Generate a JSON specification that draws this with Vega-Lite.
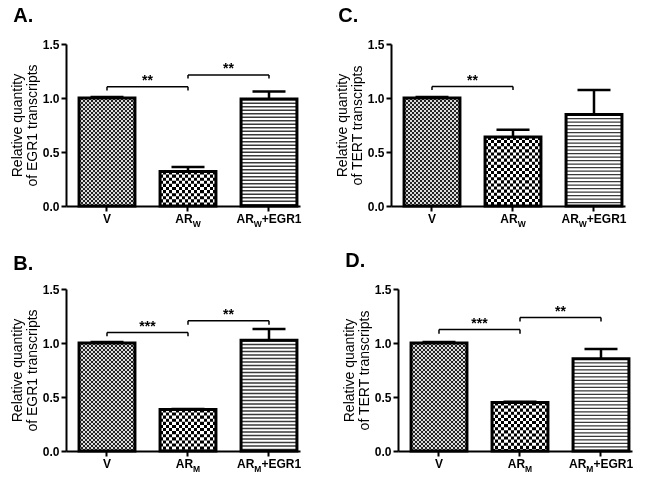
{
"$schema": "https://vega.github.io/schema/vega-lite/v6.json",
"padding": {"left": 10, "top": 6, "right": 2, "bottom": 2},
"background": "white",
"datasets": {
"bars": [
{"p":"A","cat":"V","value":1.0,"hi":1.01},
{"p":"A","cat":"AR","value":0.32,"hi":0.36},
{"p":"A","cat":"AR+EGR1","value":0.99,"hi":1.06},
{"p":"B","cat":"V","value":1.0,"hi":1.01},
{"p":"B","cat":"AR","value":0.385,"hi":0.39},
{"p":"B","cat":"AR+EGR1","value":1.025,"hi":1.13},
{"p":"C","cat":"V","value":1.0,"hi":1.01},
{"p":"C","cat":"AR","value":0.64,"hi":0.705},
{"p":"C","cat":"AR+EGR1","value":0.848,"hi":1.075},
{"p":"D","cat":"V","value":1.0,"hi":1.01},
{"p":"D","cat":"AR","value":0.45,"hi":0.455},
{"p":"D","cat":"AR+EGR1","value":0.855,"hi":0.945}
],
"brackets": [
{"p":"A","c1":"V","c2":"AR","level":1.105,"leg":1.07,"stars":"**"},
{"p":"A","c1":"AR","c2":"AR+EGR1","level":1.213,"leg":1.18,"stars":"**"},
{"p":"B","c1":"V","c2":"AR","level":1.097,"leg":1.062,"stars":"***"},
{"p":"B","c1":"AR","c2":"AR+EGR1","level":1.205,"leg":1.17,"stars":"**"},
{"p":"C","c1":"V","c2":"AR","level":1.106,"leg":1.074,"stars":"**"},
{"p":"D","c1":"V","c2":"AR","level":1.124,"leg":1.086,"stars":"***"},
{"p":"D","c1":"AR","c2":"AR+EGR1","level":1.237,"leg":1.2,"stars":"**"}
],
"labels": [
{"p":"A","cat":"V","main":"V","sub":"","tail":""},
{"p":"A","cat":"AR","main":"AR","sub":"W","tail":""},
{"p":"A","cat":"AR+EGR1","main":"AR","sub":"W","tail":"+EGR1"},
{"p":"C","cat":"V","main":"V","sub":"","tail":""},
{"p":"C","cat":"AR","main":"AR","sub":"W","tail":""},
{"p":"C","cat":"AR+EGR1","main":"AR","sub":"W","tail":"+EGR1"},
{"p":"B","cat":"V","main":"V","sub":"","tail":""},
{"p":"B","cat":"AR","main":"AR","sub":"M","tail":""},
{"p":"B","cat":"AR+EGR1","main":"AR","sub":"M","tail":"+EGR1"},
{"p":"D","cat":"V","main":"V","sub":"","tail":""},
{"p":"D","cat":"AR","main":"AR","sub":"M","tail":""},
{"p":"D","cat":"AR+EGR1","main":"AR","sub":"M","tail":"+EGR1"}
]
},
"spacing": 17,
"vconcat": [
{"spacing": 33, "hconcat": [
{
"width":234,"height":162,
"title":{"text":"A.","offset":12,"dx":3},
"data":{"name":"bars"},
"transform":[{"filter":"datum.p=='A'"}],
"encoding":{"x":{"field":"cat","type":"nominal","title":null,"scale":{"type":"band","domain":["V","AR","AR+EGR1"],"paddingInner":0.31,"paddingOuter":0.0995,"align":0.81},"axis":{"labels":false,"tickSize":5,"tickWidth":2,"domainWidth":2,"domainColor":"#000","tickColor":"#000"}}},
"layer":[
{"transform":[{"filter":"datum.cat=='V'"}],"mark":{"type":"bar","fill":{"gradient":"linear","x1":0,"y1":0,"x2":1,"y2":0,"stops":[
{"offset":0,"color":"#202020"},{"offset":0.0357,"color":"#202020"},{"offset":0.0357,"color":"#d8d8d8"},{"offset":0.0714,"color":"#d8d8d8"},
{"offset":0.0714,"color":"#202020"},{"offset":0.1071,"color":"#202020"},{"offset":0.1071,"color":"#d8d8d8"},{"offset":0.1429,"color":"#d8d8d8"},
{"offset":0.1429,"color":"#202020"},{"offset":0.1786,"color":"#202020"},{"offset":0.1786,"color":"#d8d8d8"},{"offset":0.2143,"color":"#d8d8d8"},
{"offset":0.2143,"color":"#202020"},{"offset":0.25,"color":"#202020"},{"offset":0.25,"color":"#d8d8d8"},{"offset":0.2857,"color":"#d8d8d8"},
{"offset":0.2857,"color":"#202020"},{"offset":0.3214,"color":"#202020"},{"offset":0.3214,"color":"#d8d8d8"},{"offset":0.3571,"color":"#d8d8d8"},
{"offset":0.3571,"color":"#202020"},{"offset":0.3929,"color":"#202020"},{"offset":0.3929,"color":"#d8d8d8"},{"offset":0.4286,"color":"#d8d8d8"},
{"offset":0.4286,"color":"#202020"},{"offset":0.4643,"color":"#202020"},{"offset":0.4643,"color":"#d8d8d8"},{"offset":0.5,"color":"#d8d8d8"},
{"offset":0.5,"color":"#202020"},{"offset":0.5357,"color":"#202020"},{"offset":0.5357,"color":"#d8d8d8"},{"offset":0.5714,"color":"#d8d8d8"},
{"offset":0.5714,"color":"#202020"},{"offset":0.6071,"color":"#202020"},{"offset":0.6071,"color":"#d8d8d8"},{"offset":0.6429,"color":"#d8d8d8"},
{"offset":0.6429,"color":"#202020"},{"offset":0.6786,"color":"#202020"},{"offset":0.6786,"color":"#d8d8d8"},{"offset":0.7143,"color":"#d8d8d8"},
{"offset":0.7143,"color":"#202020"},{"offset":0.75,"color":"#202020"},{"offset":0.75,"color":"#d8d8d8"},{"offset":0.7857,"color":"#d8d8d8"},
{"offset":0.7857,"color":"#202020"},{"offset":0.8214,"color":"#202020"},{"offset":0.8214,"color":"#d8d8d8"},{"offset":0.8571,"color":"#d8d8d8"},
{"offset":0.8571,"color":"#202020"},{"offset":0.8929,"color":"#202020"},{"offset":0.8929,"color":"#d8d8d8"},{"offset":0.9286,"color":"#d8d8d8"},
{"offset":0.9286,"color":"#202020"},{"offset":0.9643,"color":"#202020"},{"offset":0.9643,"color":"#d8d8d8"},{"offset":1,"color":"#d8d8d8"}
]}},"encoding":{"y":{"field":"value","type":"quantitative","scale":{"domain":[0,1.5],"nice":false},"axis":{"values":[0,0.5,1,1.5],"format":".1f","title":["Relative quantity","of EGR1 transcripts"],"labelFontSize":12,"labelFontWeight":"bold","labelColor":"#000","labelPadding":2,"titleFontSize":14,"titleFontWeight":"normal","titleColor":"#000","titlePadding":3,"titleLineHeight":15,"tickSize":5,"tickWidth":2,"domainWidth":2,"domainColor":"#000","tickColor":"#000"}}}},
{"transform":[{"filter":"datum.cat=='AR'"}],"mark":{"type":"bar","fill":{"gradient":"linear","x1":0,"y1":0,"x2":1,"y2":0,"stops":[
{"offset":0,"color":"#000"},{"offset":0.0556,"color":"#000"},{"offset":0.0556,"color":"#fff"},{"offset":0.1111,"color":"#fff"},
{"offset":0.1111,"color":"#000"},{"offset":0.1667,"color":"#000"},{"offset":0.1667,"color":"#fff"},{"offset":0.2222,"color":"#fff"},
{"offset":0.2222,"color":"#000"},{"offset":0.2778,"color":"#000"},{"offset":0.2778,"color":"#fff"},{"offset":0.3333,"color":"#fff"},
{"offset":0.3333,"color":"#000"},{"offset":0.3889,"color":"#000"},{"offset":0.3889,"color":"#fff"},{"offset":0.4444,"color":"#fff"},
{"offset":0.4444,"color":"#000"},{"offset":0.5,"color":"#000"},{"offset":0.5,"color":"#fff"},{"offset":0.5556,"color":"#fff"},
{"offset":0.5556,"color":"#000"},{"offset":0.6111,"color":"#000"},{"offset":0.6111,"color":"#fff"},{"offset":0.6667,"color":"#fff"},
{"offset":0.6667,"color":"#000"},{"offset":0.7222,"color":"#000"},{"offset":0.7222,"color":"#fff"},{"offset":0.7778,"color":"#fff"},
{"offset":0.7778,"color":"#000"},{"offset":0.8333,"color":"#000"},{"offset":0.8333,"color":"#fff"},{"offset":0.8889,"color":"#fff"},
{"offset":0.8889,"color":"#000"},{"offset":0.9444,"color":"#000"},{"offset":0.9444,"color":"#fff"},{"offset":1,"color":"#fff"}
]}},"encoding":{"y":{"field":"value","type":"quantitative"}}},
{"transform":[{"filter":"datum.cat=='V'"}],"mark":{"type":"rule","color":"#fff","strokeWidth":55,"strokeDash":[2,2],"blend":"difference"},"encoding":{"y":{"field":"value","type":"quantitative"},"y2":{"datum":0}}},
{"transform":[{"filter":"datum.cat=='AR'"}],"mark":{"type":"rule","color":"#fff","strokeWidth":55,"strokeDash":[3.1,3.1],"blend":"difference"},"encoding":{"y":{"field":"value","type":"quantitative"},"y2":{"datum":0}}},
{"transform":[{"filter":"datum.cat=='AR+EGR1'"}],"mark":{"type":"rule","color":"#3a3a3a","strokeWidth":55,"strokeDash":[1.4,2.1]},"encoding":{"y":{"field":"value","type":"quantitative"},"y2":{"datum":0}}},
{"mark":{"type":"bar","filled":false,"color":"#000","strokeWidth":3},"encoding":{"y":{"field":"value","type":"quantitative"}}},
{"mark":{"type":"rule","color":"#000","strokeWidth":2.5},"encoding":{"y":{"field":"value","type":"quantitative"},"y2":{"field":"hi"}}},
{"mark":{"type":"tick","color":"#000","size":33,"thickness":2.5,"opacity":1},"encoding":{"y":{"field":"hi","type":"quantitative"}}},
{"data":{"name":"brackets"},"transform":[{"filter":"datum.p=='A'"}],"mark":{"type":"rule","color":"#000","strokeWidth":1.5},"encoding":{"x":{"field":"c1","type":"nominal"},"x2":{"field":"c2"},"y":{"field":"level","type":"quantitative"}}},
{"data":{"name":"brackets"},"transform":[{"filter":"datum.p=='A'"}],"mark":{"type":"rule","color":"#000","strokeWidth":1.5},"encoding":{"x":{"field":"c1","type":"nominal"},"y":{"field":"level","type":"quantitative"},"y2":{"field":"leg"}}},
{"data":{"name":"brackets"},"transform":[{"filter":"datum.p=='A'"}],"mark":{"type":"rule","color":"#000","strokeWidth":1.5},"encoding":{"x":{"field":"c2","type":"nominal"},"y":{"field":"level","type":"quantitative"},"y2":{"field":"leg"}}},
{"data":{"name":"brackets"},"transform":[{"filter":"datum.p=='A'"}],"mark":{"type":"text","dx":40.5,"dy":-1.5,"baseline":"alphabetic","align":"center","fontSize":14,"fontWeight":"bold"},"encoding":{"x":{"field":"c1","type":"nominal"},"y":{"field":"level","type":"quantitative"},"text":{"field":"stars"}}},
{"data":{"name":"labels"},"transform":[{"filter":"datum.p=='A' && datum.cat=='V'"}],"mark":{"type":"text","align":"center","baseline":"alphabetic","dy":16.5,"fontSize":12,"fontWeight":"bold"},"encoding":{"y":{"datum":0},"text":{"field":"main"}}},
{"data":{"name":"labels"},"transform":[{"filter":"datum.p=='A' && datum.cat=='AR'"}],"mark":{"type":"text","align":"left","baseline":"alphabetic","dx":-12.7,"dy":16.5,"fontSize":12,"fontWeight":"bold"},"encoding":{"y":{"datum":0},"text":{"field":"main"}}},
{"data":{"name":"labels"},"transform":[{"filter":"datum.p=='A' && datum.cat=='AR'"}],"mark":{"type":"text","align":"left","baseline":"alphabetic","dx":4.7,"dy":20.5,"fontSize":8.5,"fontWeight":"bold"},"encoding":{"y":{"datum":0},"text":{"field":"sub"}}},
{"data":{"name":"labels"},"transform":[{"filter":"datum.p=='A' && datum.cat=='AR+EGR1'"}],"mark":{"type":"text","align":"left","baseline":"alphabetic","dx":-32.5,"dy":16.5,"fontSize":12,"fontWeight":"bold"},"encoding":{"y":{"datum":0},"text":{"field":"main"}}},
{"data":{"name":"labels"},"transform":[{"filter":"datum.p=='A' && datum.cat=='AR+EGR1'"}],"mark":{"type":"text","align":"left","baseline":"alphabetic","dx":-15.2,"dy":20.5,"fontSize":8.5,"fontWeight":"bold"},"encoding":{"y":{"datum":0},"text":{"field":"sub"}}},
{"data":{"name":"labels"},"transform":[{"filter":"datum.p=='A' && datum.cat=='AR+EGR1'"}],"mark":{"type":"text","align":"left","baseline":"alphabetic","dx":-7.2,"dy":16.5,"fontSize":12,"fontWeight":"bold"},"encoding":{"y":{"datum":0},"text":{"field":"tail"}}}
]
},
{
"width":234,"height":162,
"title":{"text":"C.","offset":12,"dx":3},
"data":{"name":"bars"},
"transform":[{"filter":"datum.p=='C'"}],
"encoding":{"x":{"field":"cat","type":"nominal","title":null,"scale":{"type":"band","domain":["V","AR","AR+EGR1"],"paddingInner":0.31,"paddingOuter":0.0995,"align":0.81},"axis":{"labels":false,"tickSize":5,"tickWidth":2,"domainWidth":2,"domainColor":"#000","tickColor":"#000"}}},
"layer":[
{"transform":[{"filter":"datum.cat=='V'"}],"mark":{"type":"bar","fill":{"gradient":"linear","x1":0,"y1":0,"x2":1,"y2":0,"stops":[
{"offset":0,"color":"#202020"},{"offset":0.0357,"color":"#202020"},{"offset":0.0357,"color":"#d8d8d8"},{"offset":0.0714,"color":"#d8d8d8"},
{"offset":0.0714,"color":"#202020"},{"offset":0.1071,"color":"#202020"},{"offset":0.1071,"color":"#d8d8d8"},{"offset":0.1429,"color":"#d8d8d8"},
{"offset":0.1429,"color":"#202020"},{"offset":0.1786,"color":"#202020"},{"offset":0.1786,"color":"#d8d8d8"},{"offset":0.2143,"color":"#d8d8d8"},
{"offset":0.2143,"color":"#202020"},{"offset":0.25,"color":"#202020"},{"offset":0.25,"color":"#d8d8d8"},{"offset":0.2857,"color":"#d8d8d8"},
{"offset":0.2857,"color":"#202020"},{"offset":0.3214,"color":"#202020"},{"offset":0.3214,"color":"#d8d8d8"},{"offset":0.3571,"color":"#d8d8d8"},
{"offset":0.3571,"color":"#202020"},{"offset":0.3929,"color":"#202020"},{"offset":0.3929,"color":"#d8d8d8"},{"offset":0.4286,"color":"#d8d8d8"},
{"offset":0.4286,"color":"#202020"},{"offset":0.4643,"color":"#202020"},{"offset":0.4643,"color":"#d8d8d8"},{"offset":0.5,"color":"#d8d8d8"},
{"offset":0.5,"color":"#202020"},{"offset":0.5357,"color":"#202020"},{"offset":0.5357,"color":"#d8d8d8"},{"offset":0.5714,"color":"#d8d8d8"},
{"offset":0.5714,"color":"#202020"},{"offset":0.6071,"color":"#202020"},{"offset":0.6071,"color":"#d8d8d8"},{"offset":0.6429,"color":"#d8d8d8"},
{"offset":0.6429,"color":"#202020"},{"offset":0.6786,"color":"#202020"},{"offset":0.6786,"color":"#d8d8d8"},{"offset":0.7143,"color":"#d8d8d8"},
{"offset":0.7143,"color":"#202020"},{"offset":0.75,"color":"#202020"},{"offset":0.75,"color":"#d8d8d8"},{"offset":0.7857,"color":"#d8d8d8"},
{"offset":0.7857,"color":"#202020"},{"offset":0.8214,"color":"#202020"},{"offset":0.8214,"color":"#d8d8d8"},{"offset":0.8571,"color":"#d8d8d8"},
{"offset":0.8571,"color":"#202020"},{"offset":0.8929,"color":"#202020"},{"offset":0.8929,"color":"#d8d8d8"},{"offset":0.9286,"color":"#d8d8d8"},
{"offset":0.9286,"color":"#202020"},{"offset":0.9643,"color":"#202020"},{"offset":0.9643,"color":"#d8d8d8"},{"offset":1,"color":"#d8d8d8"}
]}},"encoding":{"y":{"field":"value","type":"quantitative","scale":{"domain":[0,1.5],"nice":false},"axis":{"values":[0,0.5,1,1.5],"format":".1f","title":["Relative quantity","of TERT transcripts"],"labelFontSize":12,"labelFontWeight":"bold","labelColor":"#000","labelPadding":2,"titleFontSize":14,"titleFontWeight":"normal","titleColor":"#000","titlePadding":3,"titleLineHeight":15,"tickSize":5,"tickWidth":2,"domainWidth":2,"domainColor":"#000","tickColor":"#000"}}}},
{"transform":[{"filter":"datum.cat=='AR'"}],"mark":{"type":"bar","fill":{"gradient":"linear","x1":0,"y1":0,"x2":1,"y2":0,"stops":[
{"offset":0,"color":"#000"},{"offset":0.0556,"color":"#000"},{"offset":0.0556,"color":"#fff"},{"offset":0.1111,"color":"#fff"},
{"offset":0.1111,"color":"#000"},{"offset":0.1667,"color":"#000"},{"offset":0.1667,"color":"#fff"},{"offset":0.2222,"color":"#fff"},
{"offset":0.2222,"color":"#000"},{"offset":0.2778,"color":"#000"},{"offset":0.2778,"color":"#fff"},{"offset":0.3333,"color":"#fff"},
{"offset":0.3333,"color":"#000"},{"offset":0.3889,"color":"#000"},{"offset":0.3889,"color":"#fff"},{"offset":0.4444,"color":"#fff"},
{"offset":0.4444,"color":"#000"},{"offset":0.5,"color":"#000"},{"offset":0.5,"color":"#fff"},{"offset":0.5556,"color":"#fff"},
{"offset":0.5556,"color":"#000"},{"offset":0.6111,"color":"#000"},{"offset":0.6111,"color":"#fff"},{"offset":0.6667,"color":"#fff"},
{"offset":0.6667,"color":"#000"},{"offset":0.7222,"color":"#000"},{"offset":0.7222,"color":"#fff"},{"offset":0.7778,"color":"#fff"},
{"offset":0.7778,"color":"#000"},{"offset":0.8333,"color":"#000"},{"offset":0.8333,"color":"#fff"},{"offset":0.8889,"color":"#fff"},
{"offset":0.8889,"color":"#000"},{"offset":0.9444,"color":"#000"},{"offset":0.9444,"color":"#fff"},{"offset":1,"color":"#fff"}
]}},"encoding":{"y":{"field":"value","type":"quantitative"}}},
{"transform":[{"filter":"datum.cat=='V'"}],"mark":{"type":"rule","color":"#fff","strokeWidth":55,"strokeDash":[2,2],"blend":"difference"},"encoding":{"y":{"field":"value","type":"quantitative"},"y2":{"datum":0}}},
{"transform":[{"filter":"datum.cat=='AR'"}],"mark":{"type":"rule","color":"#fff","strokeWidth":55,"strokeDash":[3.1,3.1],"blend":"difference"},"encoding":{"y":{"field":"value","type":"quantitative"},"y2":{"datum":0}}},
{"transform":[{"filter":"datum.cat=='AR+EGR1'"}],"mark":{"type":"rule","color":"#3a3a3a","strokeWidth":55,"strokeDash":[1.4,2.1]},"encoding":{"y":{"field":"value","type":"quantitative"},"y2":{"datum":0}}},
{"mark":{"type":"bar","filled":false,"color":"#000","strokeWidth":3},"encoding":{"y":{"field":"value","type":"quantitative"}}},
{"mark":{"type":"rule","color":"#000","strokeWidth":2.5},"encoding":{"y":{"field":"value","type":"quantitative"},"y2":{"field":"hi"}}},
{"mark":{"type":"tick","color":"#000","size":33,"thickness":2.5,"opacity":1},"encoding":{"y":{"field":"hi","type":"quantitative"}}},
{"data":{"name":"brackets"},"transform":[{"filter":"datum.p=='C'"}],"mark":{"type":"rule","color":"#000","strokeWidth":1.5},"encoding":{"x":{"field":"c1","type":"nominal"},"x2":{"field":"c2"},"y":{"field":"level","type":"quantitative"}}},
{"data":{"name":"brackets"},"transform":[{"filter":"datum.p=='C'"}],"mark":{"type":"rule","color":"#000","strokeWidth":1.5},"encoding":{"x":{"field":"c1","type":"nominal"},"y":{"field":"level","type":"quantitative"},"y2":{"field":"leg"}}},
{"data":{"name":"brackets"},"transform":[{"filter":"datum.p=='C'"}],"mark":{"type":"rule","color":"#000","strokeWidth":1.5},"encoding":{"x":{"field":"c2","type":"nominal"},"y":{"field":"level","type":"quantitative"},"y2":{"field":"leg"}}},
{"data":{"name":"brackets"},"transform":[{"filter":"datum.p=='C'"}],"mark":{"type":"text","dx":40.5,"dy":-1.5,"baseline":"alphabetic","align":"center","fontSize":14,"fontWeight":"bold"},"encoding":{"x":{"field":"c1","type":"nominal"},"y":{"field":"level","type":"quantitative"},"text":{"field":"stars"}}},
{"data":{"name":"labels"},"transform":[{"filter":"datum.p=='C' && datum.cat=='V'"}],"mark":{"type":"text","align":"center","baseline":"alphabetic","dy":16.5,"fontSize":12,"fontWeight":"bold"},"encoding":{"y":{"datum":0},"text":{"field":"main"}}},
{"data":{"name":"labels"},"transform":[{"filter":"datum.p=='C' && datum.cat=='AR'"}],"mark":{"type":"text","align":"left","baseline":"alphabetic","dx":-12.7,"dy":16.5,"fontSize":12,"fontWeight":"bold"},"encoding":{"y":{"datum":0},"text":{"field":"main"}}},
{"data":{"name":"labels"},"transform":[{"filter":"datum.p=='C' && datum.cat=='AR'"}],"mark":{"type":"text","align":"left","baseline":"alphabetic","dx":4.7,"dy":20.5,"fontSize":8.5,"fontWeight":"bold"},"encoding":{"y":{"datum":0},"text":{"field":"sub"}}},
{"data":{"name":"labels"},"transform":[{"filter":"datum.p=='C' && datum.cat=='AR+EGR1'"}],"mark":{"type":"text","align":"left","baseline":"alphabetic","dx":-32.5,"dy":16.5,"fontSize":12,"fontWeight":"bold"},"encoding":{"y":{"datum":0},"text":{"field":"main"}}},
{"data":{"name":"labels"},"transform":[{"filter":"datum.p=='C' && datum.cat=='AR+EGR1'"}],"mark":{"type":"text","align":"left","baseline":"alphabetic","dx":-15.2,"dy":20.5,"fontSize":8.5,"fontWeight":"bold"},"encoding":{"y":{"datum":0},"text":{"field":"sub"}}},
{"data":{"name":"labels"},"transform":[{"filter":"datum.p=='C' && datum.cat=='AR+EGR1'"}],"mark":{"type":"text","align":"left","baseline":"alphabetic","dx":-7.2,"dy":16.5,"fontSize":12,"fontWeight":"bold"},"encoding":{"y":{"datum":0},"text":{"field":"tail"}}}
]
}
]},
{"spacing": 40, "hconcat": [
{
"width":234,"height":162,
"title":{"text":"B.","offset":9,"dx":3},
"data":{"name":"bars"},
"transform":[{"filter":"datum.p=='B'"}],
"encoding":{"x":{"field":"cat","type":"nominal","title":null,"scale":{"type":"band","domain":["V","AR","AR+EGR1"],"paddingInner":0.31,"paddingOuter":0.0995,"align":0.81},"axis":{"labels":false,"tickSize":5,"tickWidth":2,"domainWidth":2,"domainColor":"#000","tickColor":"#000"}}},
"layer":[
{"transform":[{"filter":"datum.cat=='V'"}],"mark":{"type":"bar","fill":{"gradient":"linear","x1":0,"y1":0,"x2":1,"y2":0,"stops":[
{"offset":0,"color":"#202020"},{"offset":0.0357,"color":"#202020"},{"offset":0.0357,"color":"#d8d8d8"},{"offset":0.0714,"color":"#d8d8d8"},
{"offset":0.0714,"color":"#202020"},{"offset":0.1071,"color":"#202020"},{"offset":0.1071,"color":"#d8d8d8"},{"offset":0.1429,"color":"#d8d8d8"},
{"offset":0.1429,"color":"#202020"},{"offset":0.1786,"color":"#202020"},{"offset":0.1786,"color":"#d8d8d8"},{"offset":0.2143,"color":"#d8d8d8"},
{"offset":0.2143,"color":"#202020"},{"offset":0.25,"color":"#202020"},{"offset":0.25,"color":"#d8d8d8"},{"offset":0.2857,"color":"#d8d8d8"},
{"offset":0.2857,"color":"#202020"},{"offset":0.3214,"color":"#202020"},{"offset":0.3214,"color":"#d8d8d8"},{"offset":0.3571,"color":"#d8d8d8"},
{"offset":0.3571,"color":"#202020"},{"offset":0.3929,"color":"#202020"},{"offset":0.3929,"color":"#d8d8d8"},{"offset":0.4286,"color":"#d8d8d8"},
{"offset":0.4286,"color":"#202020"},{"offset":0.4643,"color":"#202020"},{"offset":0.4643,"color":"#d8d8d8"},{"offset":0.5,"color":"#d8d8d8"},
{"offset":0.5,"color":"#202020"},{"offset":0.5357,"color":"#202020"},{"offset":0.5357,"color":"#d8d8d8"},{"offset":0.5714,"color":"#d8d8d8"},
{"offset":0.5714,"color":"#202020"},{"offset":0.6071,"color":"#202020"},{"offset":0.6071,"color":"#d8d8d8"},{"offset":0.6429,"color":"#d8d8d8"},
{"offset":0.6429,"color":"#202020"},{"offset":0.6786,"color":"#202020"},{"offset":0.6786,"color":"#d8d8d8"},{"offset":0.7143,"color":"#d8d8d8"},
{"offset":0.7143,"color":"#202020"},{"offset":0.75,"color":"#202020"},{"offset":0.75,"color":"#d8d8d8"},{"offset":0.7857,"color":"#d8d8d8"},
{"offset":0.7857,"color":"#202020"},{"offset":0.8214,"color":"#202020"},{"offset":0.8214,"color":"#d8d8d8"},{"offset":0.8571,"color":"#d8d8d8"},
{"offset":0.8571,"color":"#202020"},{"offset":0.8929,"color":"#202020"},{"offset":0.8929,"color":"#d8d8d8"},{"offset":0.9286,"color":"#d8d8d8"},
{"offset":0.9286,"color":"#202020"},{"offset":0.9643,"color":"#202020"},{"offset":0.9643,"color":"#d8d8d8"},{"offset":1,"color":"#d8d8d8"}
]}},"encoding":{"y":{"field":"value","type":"quantitative","scale":{"domain":[0,1.5],"nice":false},"axis":{"values":[0,0.5,1,1.5],"format":".1f","title":["Relative quantity","of EGR1 transcripts"],"labelFontSize":12,"labelFontWeight":"bold","labelColor":"#000","labelPadding":2,"titleFontSize":14,"titleFontWeight":"normal","titleColor":"#000","titlePadding":3,"titleLineHeight":15,"tickSize":5,"tickWidth":2,"domainWidth":2,"domainColor":"#000","tickColor":"#000"}}}},
{"transform":[{"filter":"datum.cat=='AR'"}],"mark":{"type":"bar","fill":{"gradient":"linear","x1":0,"y1":0,"x2":1,"y2":0,"stops":[
{"offset":0,"color":"#000"},{"offset":0.0556,"color":"#000"},{"offset":0.0556,"color":"#fff"},{"offset":0.1111,"color":"#fff"},
{"offset":0.1111,"color":"#000"},{"offset":0.1667,"color":"#000"},{"offset":0.1667,"color":"#fff"},{"offset":0.2222,"color":"#fff"},
{"offset":0.2222,"color":"#000"},{"offset":0.2778,"color":"#000"},{"offset":0.2778,"color":"#fff"},{"offset":0.3333,"color":"#fff"},
{"offset":0.3333,"color":"#000"},{"offset":0.3889,"color":"#000"},{"offset":0.3889,"color":"#fff"},{"offset":0.4444,"color":"#fff"},
{"offset":0.4444,"color":"#000"},{"offset":0.5,"color":"#000"},{"offset":0.5,"color":"#fff"},{"offset":0.5556,"color":"#fff"},
{"offset":0.5556,"color":"#000"},{"offset":0.6111,"color":"#000"},{"offset":0.6111,"color":"#fff"},{"offset":0.6667,"color":"#fff"},
{"offset":0.6667,"color":"#000"},{"offset":0.7222,"color":"#000"},{"offset":0.7222,"color":"#fff"},{"offset":0.7778,"color":"#fff"},
{"offset":0.7778,"color":"#000"},{"offset":0.8333,"color":"#000"},{"offset":0.8333,"color":"#fff"},{"offset":0.8889,"color":"#fff"},
{"offset":0.8889,"color":"#000"},{"offset":0.9444,"color":"#000"},{"offset":0.9444,"color":"#fff"},{"offset":1,"color":"#fff"}
]}},"encoding":{"y":{"field":"value","type":"quantitative"}}},
{"transform":[{"filter":"datum.cat=='V'"}],"mark":{"type":"rule","color":"#fff","strokeWidth":55,"strokeDash":[2,2],"blend":"difference"},"encoding":{"y":{"field":"value","type":"quantitative"},"y2":{"datum":0}}},
{"transform":[{"filter":"datum.cat=='AR'"}],"mark":{"type":"rule","color":"#fff","strokeWidth":55,"strokeDash":[3.1,3.1],"blend":"difference"},"encoding":{"y":{"field":"value","type":"quantitative"},"y2":{"datum":0}}},
{"transform":[{"filter":"datum.cat=='AR+EGR1'"}],"mark":{"type":"rule","color":"#3a3a3a","strokeWidth":55,"strokeDash":[1.4,2.1]},"encoding":{"y":{"field":"value","type":"quantitative"},"y2":{"datum":0}}},
{"mark":{"type":"bar","filled":false,"color":"#000","strokeWidth":3},"encoding":{"y":{"field":"value","type":"quantitative"}}},
{"mark":{"type":"rule","color":"#000","strokeWidth":2.5},"encoding":{"y":{"field":"value","type":"quantitative"},"y2":{"field":"hi"}}},
{"mark":{"type":"tick","color":"#000","size":33,"thickness":2.5,"opacity":1},"encoding":{"y":{"field":"hi","type":"quantitative"}}},
{"data":{"name":"brackets"},"transform":[{"filter":"datum.p=='B'"}],"mark":{"type":"rule","color":"#000","strokeWidth":1.5},"encoding":{"x":{"field":"c1","type":"nominal"},"x2":{"field":"c2"},"y":{"field":"level","type":"quantitative"}}},
{"data":{"name":"brackets"},"transform":[{"filter":"datum.p=='B'"}],"mark":{"type":"rule","color":"#000","strokeWidth":1.5},"encoding":{"x":{"field":"c1","type":"nominal"},"y":{"field":"level","type":"quantitative"},"y2":{"field":"leg"}}},
{"data":{"name":"brackets"},"transform":[{"filter":"datum.p=='B'"}],"mark":{"type":"rule","color":"#000","strokeWidth":1.5},"encoding":{"x":{"field":"c2","type":"nominal"},"y":{"field":"level","type":"quantitative"},"y2":{"field":"leg"}}},
{"data":{"name":"brackets"},"transform":[{"filter":"datum.p=='B'"}],"mark":{"type":"text","dx":40.5,"dy":-1.5,"baseline":"alphabetic","align":"center","fontSize":14,"fontWeight":"bold"},"encoding":{"x":{"field":"c1","type":"nominal"},"y":{"field":"level","type":"quantitative"},"text":{"field":"stars"}}},
{"data":{"name":"labels"},"transform":[{"filter":"datum.p=='B' && datum.cat=='V'"}],"mark":{"type":"text","align":"center","baseline":"alphabetic","dy":16.5,"fontSize":12,"fontWeight":"bold"},"encoding":{"y":{"datum":0},"text":{"field":"main"}}},
{"data":{"name":"labels"},"transform":[{"filter":"datum.p=='B' && datum.cat=='AR'"}],"mark":{"type":"text","align":"left","baseline":"alphabetic","dx":-12.2,"dy":16.5,"fontSize":12,"fontWeight":"bold"},"encoding":{"y":{"datum":0},"text":{"field":"main"}}},
{"data":{"name":"labels"},"transform":[{"filter":"datum.p=='B' && datum.cat=='AR'"}],"mark":{"type":"text","align":"left","baseline":"alphabetic","dx":5.1,"dy":20.5,"fontSize":8.5,"fontWeight":"bold"},"encoding":{"y":{"datum":0},"text":{"field":"sub"}}},
{"data":{"name":"labels"},"transform":[{"filter":"datum.p=='B' && datum.cat=='AR+EGR1'"}],"mark":{"type":"text","align":"left","baseline":"alphabetic","dx":-32.0,"dy":16.5,"fontSize":12,"fontWeight":"bold"},"encoding":{"y":{"datum":0},"text":{"field":"main"}}},
{"data":{"name":"labels"},"transform":[{"filter":"datum.p=='B' && datum.cat=='AR+EGR1'"}],"mark":{"type":"text","align":"left","baseline":"alphabetic","dx":-14.7,"dy":20.5,"fontSize":8.5,"fontWeight":"bold"},"encoding":{"y":{"datum":0},"text":{"field":"sub"}}},
{"data":{"name":"labels"},"transform":[{"filter":"datum.p=='B' && datum.cat=='AR+EGR1'"}],"mark":{"type":"text","align":"left","baseline":"alphabetic","dx":-7.6,"dy":16.5,"fontSize":12,"fontWeight":"bold"},"encoding":{"y":{"datum":0},"text":{"field":"tail"}}}
]
},
{
"width":234,"height":162,
"title":{"text":"D.","offset":12,"dx":3},
"data":{"name":"bars"},
"transform":[{"filter":"datum.p=='D'"}],
"encoding":{"x":{"field":"cat","type":"nominal","title":null,"scale":{"type":"band","domain":["V","AR","AR+EGR1"],"paddingInner":0.31,"paddingOuter":0.0995,"align":0.81},"axis":{"labels":false,"tickSize":5,"tickWidth":2,"domainWidth":2,"domainColor":"#000","tickColor":"#000"}}},
"layer":[
{"transform":[{"filter":"datum.cat=='V'"}],"mark":{"type":"bar","fill":{"gradient":"linear","x1":0,"y1":0,"x2":1,"y2":0,"stops":[
{"offset":0,"color":"#202020"},{"offset":0.0357,"color":"#202020"},{"offset":0.0357,"color":"#d8d8d8"},{"offset":0.0714,"color":"#d8d8d8"},
{"offset":0.0714,"color":"#202020"},{"offset":0.1071,"color":"#202020"},{"offset":0.1071,"color":"#d8d8d8"},{"offset":0.1429,"color":"#d8d8d8"},
{"offset":0.1429,"color":"#202020"},{"offset":0.1786,"color":"#202020"},{"offset":0.1786,"color":"#d8d8d8"},{"offset":0.2143,"color":"#d8d8d8"},
{"offset":0.2143,"color":"#202020"},{"offset":0.25,"color":"#202020"},{"offset":0.25,"color":"#d8d8d8"},{"offset":0.2857,"color":"#d8d8d8"},
{"offset":0.2857,"color":"#202020"},{"offset":0.3214,"color":"#202020"},{"offset":0.3214,"color":"#d8d8d8"},{"offset":0.3571,"color":"#d8d8d8"},
{"offset":0.3571,"color":"#202020"},{"offset":0.3929,"color":"#202020"},{"offset":0.3929,"color":"#d8d8d8"},{"offset":0.4286,"color":"#d8d8d8"},
{"offset":0.4286,"color":"#202020"},{"offset":0.4643,"color":"#202020"},{"offset":0.4643,"color":"#d8d8d8"},{"offset":0.5,"color":"#d8d8d8"},
{"offset":0.5,"color":"#202020"},{"offset":0.5357,"color":"#202020"},{"offset":0.5357,"color":"#d8d8d8"},{"offset":0.5714,"color":"#d8d8d8"},
{"offset":0.5714,"color":"#202020"},{"offset":0.6071,"color":"#202020"},{"offset":0.6071,"color":"#d8d8d8"},{"offset":0.6429,"color":"#d8d8d8"},
{"offset":0.6429,"color":"#202020"},{"offset":0.6786,"color":"#202020"},{"offset":0.6786,"color":"#d8d8d8"},{"offset":0.7143,"color":"#d8d8d8"},
{"offset":0.7143,"color":"#202020"},{"offset":0.75,"color":"#202020"},{"offset":0.75,"color":"#d8d8d8"},{"offset":0.7857,"color":"#d8d8d8"},
{"offset":0.7857,"color":"#202020"},{"offset":0.8214,"color":"#202020"},{"offset":0.8214,"color":"#d8d8d8"},{"offset":0.8571,"color":"#d8d8d8"},
{"offset":0.8571,"color":"#202020"},{"offset":0.8929,"color":"#202020"},{"offset":0.8929,"color":"#d8d8d8"},{"offset":0.9286,"color":"#d8d8d8"},
{"offset":0.9286,"color":"#202020"},{"offset":0.9643,"color":"#202020"},{"offset":0.9643,"color":"#d8d8d8"},{"offset":1,"color":"#d8d8d8"}
]}},"encoding":{"y":{"field":"value","type":"quantitative","scale":{"domain":[0,1.5],"nice":false},"axis":{"values":[0,0.5,1,1.5],"format":".1f","title":["Relative quantity","of TERT transcripts"],"labelFontSize":12,"labelFontWeight":"bold","labelColor":"#000","labelPadding":2,"titleFontSize":14,"titleFontWeight":"normal","titleColor":"#000","titlePadding":3,"titleLineHeight":15,"tickSize":5,"tickWidth":2,"domainWidth":2,"domainColor":"#000","tickColor":"#000"}}}},
{"transform":[{"filter":"datum.cat=='AR'"}],"mark":{"type":"bar","fill":{"gradient":"linear","x1":0,"y1":0,"x2":1,"y2":0,"stops":[
{"offset":0,"color":"#000"},{"offset":0.0556,"color":"#000"},{"offset":0.0556,"color":"#fff"},{"offset":0.1111,"color":"#fff"},
{"offset":0.1111,"color":"#000"},{"offset":0.1667,"color":"#000"},{"offset":0.1667,"color":"#fff"},{"offset":0.2222,"color":"#fff"},
{"offset":0.2222,"color":"#000"},{"offset":0.2778,"color":"#000"},{"offset":0.2778,"color":"#fff"},{"offset":0.3333,"color":"#fff"},
{"offset":0.3333,"color":"#000"},{"offset":0.3889,"color":"#000"},{"offset":0.3889,"color":"#fff"},{"offset":0.4444,"color":"#fff"},
{"offset":0.4444,"color":"#000"},{"offset":0.5,"color":"#000"},{"offset":0.5,"color":"#fff"},{"offset":0.5556,"color":"#fff"},
{"offset":0.5556,"color":"#000"},{"offset":0.6111,"color":"#000"},{"offset":0.6111,"color":"#fff"},{"offset":0.6667,"color":"#fff"},
{"offset":0.6667,"color":"#000"},{"offset":0.7222,"color":"#000"},{"offset":0.7222,"color":"#fff"},{"offset":0.7778,"color":"#fff"},
{"offset":0.7778,"color":"#000"},{"offset":0.8333,"color":"#000"},{"offset":0.8333,"color":"#fff"},{"offset":0.8889,"color":"#fff"},
{"offset":0.8889,"color":"#000"},{"offset":0.9444,"color":"#000"},{"offset":0.9444,"color":"#fff"},{"offset":1,"color":"#fff"}
]}},"encoding":{"y":{"field":"value","type":"quantitative"}}},
{"transform":[{"filter":"datum.cat=='V'"}],"mark":{"type":"rule","color":"#fff","strokeWidth":55,"strokeDash":[2,2],"blend":"difference"},"encoding":{"y":{"field":"value","type":"quantitative"},"y2":{"datum":0}}},
{"transform":[{"filter":"datum.cat=='AR'"}],"mark":{"type":"rule","color":"#fff","strokeWidth":55,"strokeDash":[3.1,3.1],"blend":"difference"},"encoding":{"y":{"field":"value","type":"quantitative"},"y2":{"datum":0}}},
{"transform":[{"filter":"datum.cat=='AR+EGR1'"}],"mark":{"type":"rule","color":"#3a3a3a","strokeWidth":55,"strokeDash":[1.4,2.1]},"encoding":{"y":{"field":"value","type":"quantitative"},"y2":{"datum":0}}},
{"mark":{"type":"bar","filled":false,"color":"#000","strokeWidth":3},"encoding":{"y":{"field":"value","type":"quantitative"}}},
{"mark":{"type":"rule","color":"#000","strokeWidth":2.5},"encoding":{"y":{"field":"value","type":"quantitative"},"y2":{"field":"hi"}}},
{"mark":{"type":"tick","color":"#000","size":33,"thickness":2.5,"opacity":1},"encoding":{"y":{"field":"hi","type":"quantitative"}}},
{"data":{"name":"brackets"},"transform":[{"filter":"datum.p=='D'"}],"mark":{"type":"rule","color":"#000","strokeWidth":1.5},"encoding":{"x":{"field":"c1","type":"nominal"},"x2":{"field":"c2"},"y":{"field":"level","type":"quantitative"}}},
{"data":{"name":"brackets"},"transform":[{"filter":"datum.p=='D'"}],"mark":{"type":"rule","color":"#000","strokeWidth":1.5},"encoding":{"x":{"field":"c1","type":"nominal"},"y":{"field":"level","type":"quantitative"},"y2":{"field":"leg"}}},
{"data":{"name":"brackets"},"transform":[{"filter":"datum.p=='D'"}],"mark":{"type":"rule","color":"#000","strokeWidth":1.5},"encoding":{"x":{"field":"c2","type":"nominal"},"y":{"field":"level","type":"quantitative"},"y2":{"field":"leg"}}},
{"data":{"name":"brackets"},"transform":[{"filter":"datum.p=='D'"}],"mark":{"type":"text","dx":40.5,"dy":-1.5,"baseline":"alphabetic","align":"center","fontSize":14,"fontWeight":"bold"},"encoding":{"x":{"field":"c1","type":"nominal"},"y":{"field":"level","type":"quantitative"},"text":{"field":"stars"}}},
{"data":{"name":"labels"},"transform":[{"filter":"datum.p=='D' && datum.cat=='V'"}],"mark":{"type":"text","align":"center","baseline":"alphabetic","dy":16.5,"fontSize":12,"fontWeight":"bold"},"encoding":{"y":{"datum":0},"text":{"field":"main"}}},
{"data":{"name":"labels"},"transform":[{"filter":"datum.p=='D' && datum.cat=='AR'"}],"mark":{"type":"text","align":"left","baseline":"alphabetic","dx":-12.2,"dy":16.5,"fontSize":12,"fontWeight":"bold"},"encoding":{"y":{"datum":0},"text":{"field":"main"}}},
{"data":{"name":"labels"},"transform":[{"filter":"datum.p=='D' && datum.cat=='AR'"}],"mark":{"type":"text","align":"left","baseline":"alphabetic","dx":5.1,"dy":20.5,"fontSize":8.5,"fontWeight":"bold"},"encoding":{"y":{"datum":0},"text":{"field":"sub"}}},
{"data":{"name":"labels"},"transform":[{"filter":"datum.p=='D' && datum.cat=='AR+EGR1'"}],"mark":{"type":"text","align":"left","baseline":"alphabetic","dx":-32.0,"dy":16.5,"fontSize":12,"fontWeight":"bold"},"encoding":{"y":{"datum":0},"text":{"field":"main"}}},
{"data":{"name":"labels"},"transform":[{"filter":"datum.p=='D' && datum.cat=='AR+EGR1'"}],"mark":{"type":"text","align":"left","baseline":"alphabetic","dx":-14.7,"dy":20.5,"fontSize":8.5,"fontWeight":"bold"},"encoding":{"y":{"datum":0},"text":{"field":"sub"}}},
{"data":{"name":"labels"},"transform":[{"filter":"datum.p=='D' && datum.cat=='AR+EGR1'"}],"mark":{"type":"text","align":"left","baseline":"alphabetic","dx":-7.6,"dy":16.5,"fontSize":12,"fontWeight":"bold"},"encoding":{"y":{"datum":0},"text":{"field":"tail"}}}
]
}
]}
],
"config": {
"font": "Liberation Sans",
"view": {"stroke": null},
"axis": {"grid": false, "labelFont": "Liberation Sans", "titleFont": "Liberation Sans"},
"title": {"font": "Liberation Sans", "fontSize": 20, "fontWeight": "bold", "color": "#000", "anchor": "start", "frame": "bounds"},
"text": {"font": "Liberation Sans", "color": "#000"}
}
}
